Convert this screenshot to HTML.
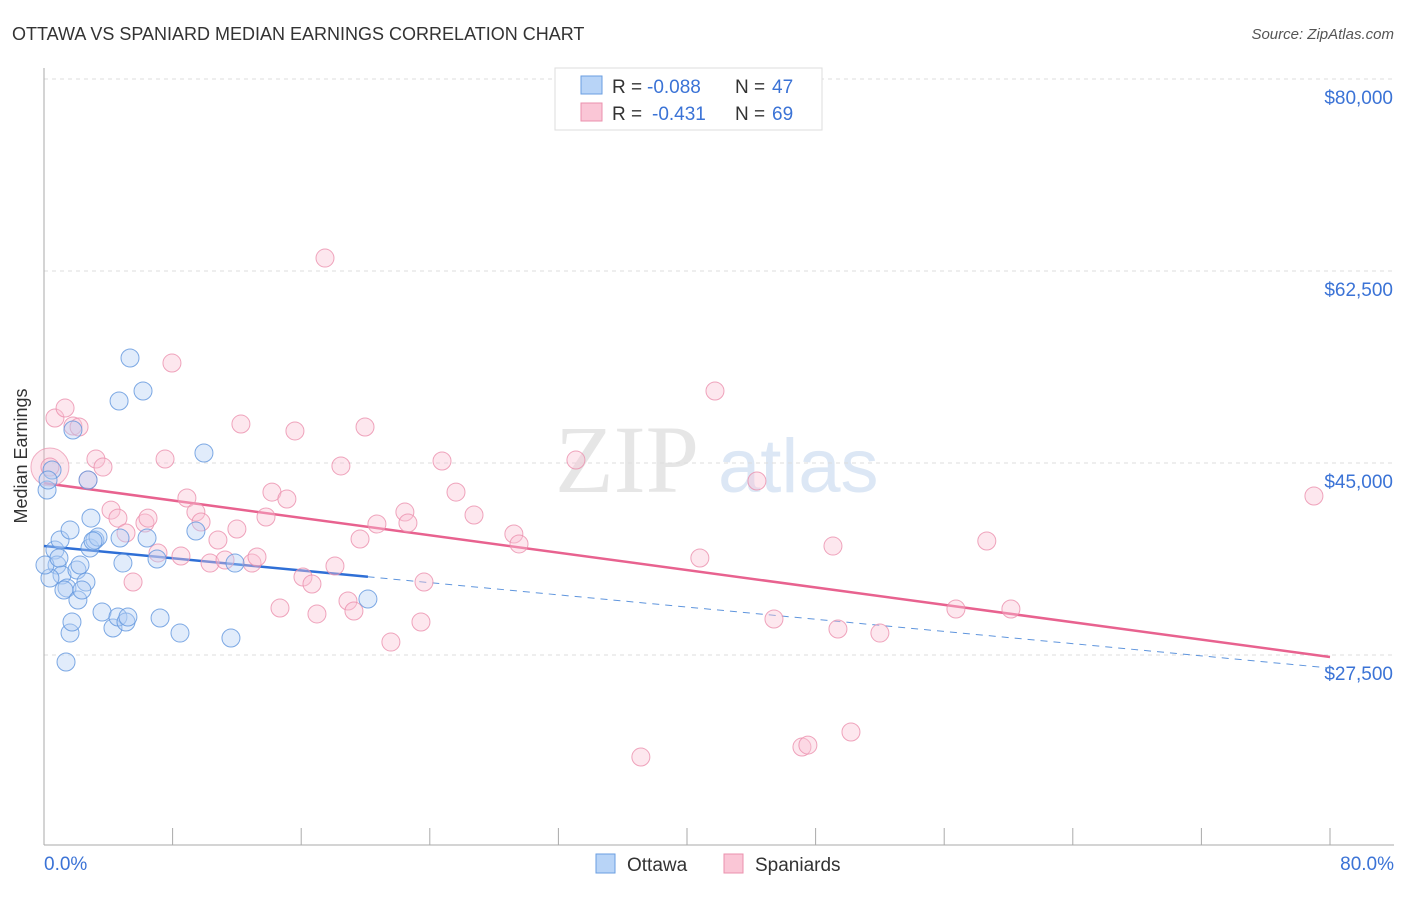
<!DOCTYPE html>
<html><head><meta charset="utf-8"><style>
body{margin:0;background:#fff;font-family:"Liberation Sans",sans-serif;}
</style></head><body>
<svg width="1406" height="892" xmlns="http://www.w3.org/2000/svg" id="chart">
<text x="12" y="40" font-size="18" fill="#333">OTTAWA VS SPANIARD MEDIAN EARNINGS CORRELATION CHART</text>
<text x="1394" y="39" font-size="15" fill="#555" font-style="italic" text-anchor="end">Source: ZipAtlas.com</text>
<text x="27" y="456" font-size="18" fill="#333" text-anchor="middle" transform="rotate(-90 27 456)">Median Earnings</text>
<g><text x="555" y="492" font-size="96" fill="#e6e6e6" font-family="Liberation Serif,serif">ZIP</text><text x="718" y="492" font-size="76" fill="#dce7f5">atlas</text></g>
<g id="grid"></g><g id="axes"></g><g id="lines"></g><g id="pts"></g>
<g>
<rect x="555" y="68" width="267" height="62" fill="#fff" stroke="#ddd"/>
<rect x="581" y="76" width="21" height="18" fill="#b8d4f7" stroke="#6a9ee0"/>
<rect x="581" y="103" width="21" height="18" fill="#fac6d6" stroke="#eb90ad"/>
<text x="612" y="93" font-size="19" fill="#333">R =</text>
<text x="647" y="93" font-size="19" fill="#3b73d6">-0.088</text>
<text x="735" y="93" font-size="19" fill="#333">N =</text>
<text x="772" y="93" font-size="19" fill="#3b73d6">47</text>
<text x="612" y="120" font-size="19" fill="#333">R =</text>
<text x="652" y="120" font-size="19" fill="#3b73d6">-0.431</text>
<text x="735" y="120" font-size="19" fill="#333">N =</text>
<text x="772" y="120" font-size="19" fill="#3b73d6">69</text>
</g>
<g>
<rect x="596" y="854" width="19" height="19" fill="#b8d4f7" stroke="#6a9ee0"/>
<text x="627" y="871" font-size="19" fill="#333">Ottawa</text>
<rect x="724" y="854" width="19" height="19" fill="#fac6d6" stroke="#eb90ad"/>
<text x="755" y="871" font-size="19" fill="#333">Spaniards</text>
</g>
</svg>
<script>
const yTicks=[80000,62500,45000,27500];
const yTickLabels=["$80,000","$62,500","$45,000","$27,500"];
const xTicks=[0,8,16,24,32,40,48,56,64,72,80];
const ottawaX=[0.19,0.5,0.25,0.68,1.0,0.81,1.12,1.43,1.24,1.62,1.8,2.05,2.24,2.11,2.61,2.74,2.86,2.92,3.17,3.36,3.61,4.29,4.6,4.91,5.1,5.22,5.35,4.67,6.16,6.41,7.03,7.22,8.46,9.45,9.95,11.63,11.88,20.15,1.37,1.62,1.74,0.37,0.06,2.36,4.73,3.05,0.93];
const ottawaY=[42540,44360,43450,37070,37980,35700,34790,33610,33420,38890,48010,35250,35700,32510,34150,43450,37250,39980,37980,38250,31420,29960,30960,35880,30510,30960,54570,50650,51560,38160,36250,30870,29500,38800,45910,29050,35880,32600,26860,29500,30510,34520,35700,33420,38160,37890,36340];
const spanX=[0.68,1.31,1.8,2.18,0.37,3.23,3.67,2.74,4.17,4.6,5.1,5.54,6.28,6.47,7.09,7.96,7.53,8.52,8.89,9.45,9.77,10.33,10.82,11.26,12.0,12.25,12.94,13.25,13.81,14.18,14.68,15.11,15.61,16.11,16.67,16.98,17.48,18.1,18.47,18.91,19.28,19.66,19.97,20.71,21.58,22.45,22.64,23.45,23.64,24.76,25.63,26.75,29.23,29.55,33.09,40.8,41.74,44.35,45.41,47.15,47.52,49.08,49.39,50.2,52.0,56.73,58.65,60.15,79.0,37.13];
const spanY=[49100,50010,48370,48280,44630,45360,44630,43450,40710,39980,38620,34150,39530,39980,36800,54110,45360,36520,41810,40530,39620,35880,37980,36160,38980,48550,35880,36430,40080,42350,31780,41720,47920,34610,33970,31240,63680,35610,44730,32420,31510,38070,48280,39440,28680,40530,39530,30510,34150,45180,42350,40260,38530,37620,45270,36340,51560,43360,30780,19110,19290,37430,29870,20480,29500,31690,37890,31690,41990,18200];
const ottawaTrend=[37430,26310];
const spanTrend=[43170,27315];
const X=p=>44+p/80*1286, Y=v=>79+(80000-v)/17500*192;
const NS="http://www.w3.org/2000/svg";
function mk(parent,tag,attrs){const e=document.createElementNS(NS,tag);for(const k in attrs)e.setAttribute(k,attrs[k]);document.getElementById(parent).appendChild(e);return e;}
yTicks.forEach((v,i)=>{
 const l=mk('grid','line',{x1:44,x2:1394,y1:Y(v),y2:Y(v),stroke:'#ddd','stroke-dasharray':'4,4'});
 
 
 const t=mk('grid','text',{x:1393,y:Y(v)+25,'font-size':19,fill:'#3b73d6','text-anchor':'end'});
 t.textContent=yTickLabels[i];
 
 
});
mk('axes','line',{x1:44,x2:44,y1:68,y2:845,stroke:'#aaa'});
mk('axes','line',{x1:44,x2:1394,y1:845,y2:845,stroke:'#aaa'});
xTicks.forEach(p=>{const t=mk('axes','line',{x1:X(p),x2:X(p),y1:828,y2:845,stroke:'#aaa'});
 
 });
let a=mk('axes','text',{x:44,y:870,'font-size':19,fill:'#3b73d6'});a.textContent='0.0%';


a=mk('axes','text',{x:1394,y:870,'font-size':19,fill:'#3b73d6','text-anchor':'end'});a.textContent='80.0%';


function pts(xs,ys,fill,stroke,name){xs.forEach((x,i)=>{const c=mk('pts','circle',{cx:X(x),cy:Y(ys[i]),r:9,fill:fill,'fill-opacity':0.4,stroke:stroke,'stroke-width':1,'stroke-opacity':0.8});
 
 });}
const big=mk('pts','circle',{cx:X(0.37),cy:Y(44630),r:19,fill:'#f7b6ca','fill-opacity':0.35,stroke:'#eb90ad','stroke-opacity':0.7});


pts(spanX,spanY,'#f9c4d4','#eb8fac','spaniards-point');
pts(ottawaX,ottawaY,'#b5d0f4','#5f95dd','ottawa-point');
let l=mk('lines','line',{x1:X(0),y1:Y(ottawaTrend[0]),x2:X(80),y2:Y(ottawaTrend[1]),stroke:'#5f95dd','stroke-dasharray':'7,6','stroke-width':1});


const ob=ottawaTrend[0]+(ottawaTrend[1]-ottawaTrend[0])*20.15/80;
l=mk('lines','line',{x1:X(0),y1:Y(ottawaTrend[0]),x2:X(20.15),y2:Y(ob),stroke:'#2f6fd6','stroke-width':2.5});


l=mk('lines','line',{x1:X(0),y1:Y(spanTrend[0]),x2:X(80),y2:Y(spanTrend[1]),stroke:'#e8628f','stroke-width':2.5});


</script>
</body></html>
